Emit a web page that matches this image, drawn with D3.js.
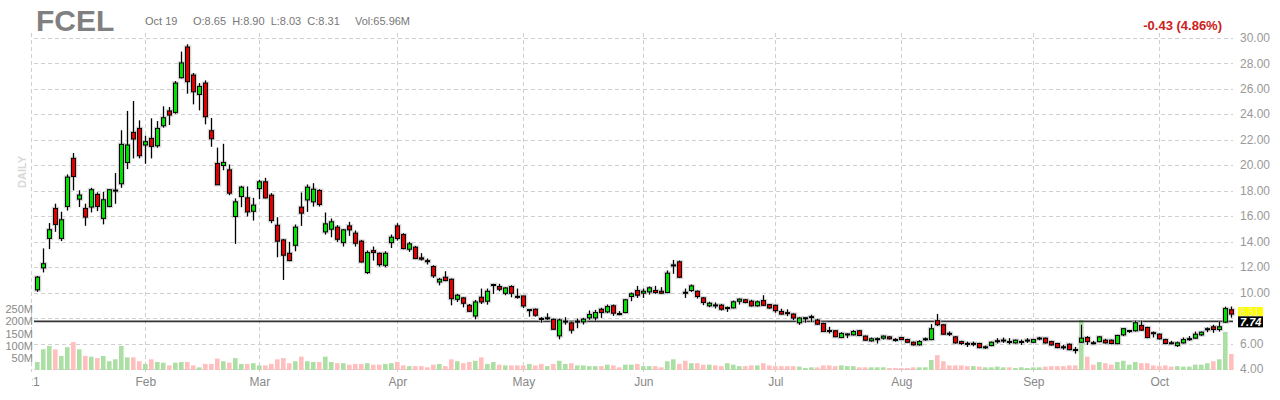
<!DOCTYPE html>
<html><head><meta charset="utf-8">
<script src="https://cdn.jsdelivr.net/npm/d3@7/dist/d3.min.js"></script>
<style>body{margin:0;background:#fff;} svg{display:block;font-family:"Liberation Sans",Arial,sans-serif;}</style>
</head><body><svg id="c" width="1280" height="400"></svg>
<script>
const openPrices = [10.21,11.94,14.25,16.6,14.25,16.76,20.53,17.33,16.6,16.71,
17.7,15.82,16.76,18.0,18.54,20.21,22.57,22.88,21.58,22.1,
21.52,23.09,24.25,24.14,26.86,29.27,27.07,25.55,26.44,22.7,
20.13,19.97,19.63,15.97,17.54,17.43,16.38,18.16,18.69,17.64,
15.28,14.13,13.08,13.71,16.7,17.27,17.12,18.01,14.76,14.97,
15.13,13.92,15.23,14.66,14.03,11.57,13.29,13.08,12.14,13.92,
15.23,14.55,13.4,13.56,12.72,12.5,12.04,10.83,11.2,11.04,
9.47,9.58,9.0,8.16,9.63,9.32,10.6,10.47,9.94,10.47,
9.7,9.73,8.62,8.69,7.97,7.98,7.9,6.6,7.72,7.62,
7.72,7.7,8.01,8.01,8.69,8.48,8.96,8.35,8.43,9.69,
10.16,9.95,10.05,10.16,10.1,10.0,12.12,12.41,10.02,10.16,
10.1,9.58,8.96,9.03,9.01,8.78,8.8,9.32,9.43,9.32,
8.96,9.37,9.05,9.0,8.52,8.42,8.31,7.63,7.99,8.08,
7.84,7.58,7.02,7.0,6.47,6.71,6.68,7.0,6.58,6.21,
6.36,6.42,6.52,6.32,6.47,6.31,6.1,5.9,6.34,6.31,
7.79,7.47,6.8,6.52,6.15,6.01,5.99,6.0,5.72,5.84,
6.2,6.25,6.16,6.05,6.14,6.25,6.1,6.41,6.42,6.15,
6.0,5.74,5.94,5.53,6.1,6.47,6.06,6.15,6.26,6.26,
5.99,6.68,6.98,7.0,7.42,7.26,6.85,6.73,6.31,6.06,
5.84,6.05,6.36,6.42,6.68,7.14,7.31,7.1,7.68,8.65];
const highPrices = [11.3,13.46,15.45,16.97,16.34,19.27,20.95,18.02,16.97,18.22,
17.86,17.91,18.1,19.38,22.73,24.25,25.03,23.51,22.31,23.67,
23.46,24.61,24.56,26.6,28.91,29.48,27.23,26.44,26.65,23.7,
21.37,21.67,20.05,17.38,18.37,18.32,17.43,18.85,19.0,17.8,
15.91,14.2,13.98,15.34,17.85,18.48,18.58,18.11,16.28,15.81,
15.29,14.97,15.55,14.87,14.13,13.3,13.61,13.14,13.24,14.55,
15.44,14.66,13.98,13.66,13.09,12.67,12.14,11.15,11.67,11.1,
9.89,9.63,9.1,9.42,10.31,10.31,10.68,10.68,10.42,10.57,
10.31,9.73,8.69,8.74,8.06,8.37,7.95,7.95,8.06,7.7,
7.96,8.01,8.59,8.64,8.8,9.06,9.06,8.54,9.48,10.0,
10.52,10.31,10.47,10.52,10.42,11.73,12.56,12.51,10.31,10.63,
10.16,9.64,9.27,9.22,9.11,8.9,9.37,9.53,9.48,9.43,
9.37,9.79,9.1,9.05,8.73,8.68,8.36,8.05,8.05,8.26,
7.94,7.63,7.31,7.05,6.89,6.79,7.05,7.05,6.63,6.47,
6.47,6.63,6.58,6.42,6.52,6.37,6.15,6.26,6.47,7.52,
8.31,7.52,6.94,6.58,6.21,6.15,6.15,6.05,5.84,6.15,
6.42,6.47,6.42,6.31,6.31,6.42,6.37,6.52,6.47,6.21,
6.05,5.89,6.0,5.73,7.47,6.58,6.21,6.58,6.37,6.31,
6.68,7.21,7.05,7.79,7.79,7.31,6.94,6.79,6.37,6.21,
6.15,6.47,6.58,6.94,6.94,7.26,7.47,7.73,8.89,8.90];
const lowPrices = [10.06,11.58,13.41,14.77,14.04,16.44,18.02,16.71,15.24,16.29,
16.39,15.35,16.7,16.97,18.22,19.69,20.53,20.53,20.11,20.53,
21.37,22.94,23.15,24.04,26.81,25.61,24.77,24.3,23.2,21.44,
18.46,19.6,17.64,13.82,16.7,15.97,15.65,17.33,17.38,15.44,
12.77,10.99,12.46,13.24,15.23,16.33,16.75,16.75,14.55,14.34,
13.98,13.61,14.45,13.61,12.35,11.46,12.51,12.04,11.98,13.5,
14.08,13.4,13.19,12.62,12.51,12.2,11.15,10.57,10.89,9.0,
9.26,8.84,8.48,7.9,9.1,9.05,9.89,10.1,9.79,9.63,
9.52,8.79,8.11,8.11,7.64,7.85,7.06,6.33,7.48,6.78,
7.2,7.49,7.86,7.8,8.01,8.38,8.17,8.22,8.38,9.32,
9.58,9.58,9.84,9.9,9.9,9.95,11.47,11.15,9.58,10.05,
9.53,9.01,8.85,8.75,8.59,8.48,8.75,9.06,9.16,8.9,
8.89,8.94,8.73,8.42,8.26,8.15,7.84,7.47,7.63,7.68,
7.47,6.94,6.79,6.53,6.42,6.42,6.63,6.58,6.21,6.15,
6.0,6.31,6.31,6.15,6.26,6.05,5.84,5.84,6.21,6.26,
7.37,6.68,6.58,6.0,5.89,5.73,5.79,5.63,5.58,5.79,
6.0,6.05,5.94,6.0,5.89,6.05,6.05,6.26,6.0,5.84,
5.63,5.52,5.47,5.21,6.05,5.89,5.94,6.1,6.0,5.94,
5.94,6.58,6.84,6.94,7.0,6.42,6.47,6.31,5.94,5.94,
5.73,6.0,6.21,6.37,6.58,6.89,6.84,6.94,7.63,8.03];
const closePrices = [11.21,12.26,14.93,15.35,15.71,19.06,19.11,17.65,15.92,18.07,
16.76,17.28,18.07,18.04,21.63,21.58,22.05,20.74,21.84,21.47,
22.88,23.72,23.93,26.44,28.02,26.55,25.76,26.18,23.8,22.07,
18.46,20.21,17.8,17.12,18.27,16.33,16.86,18.69,17.43,15.65,
14.03,12.93,12.51,15.13,16.23,18.27,18.11,16.91,15.39,15.55,
14.18,14.92,14.92,13.87,12.4,13.14,13.14,12.19,13.08,14.34,
14.24,13.45,13.82,12.67,12.62,12.45,11.31,11.04,10.94,9.52,
9.79,9.16,8.53,9.26,9.26,10.1,10.63,10.26,10.36,9.94,
9.66,8.95,8.66,8.22,7.93,8.02,7.12,7.85,7.76,7.05,
7.76,7.91,8.28,8.43,8.43,8.9,8.38,8.31,9.43,9.9,
9.79,10.1,10.37,10.0,9.95,11.52,12.17,11.2,9.98,10.52,
9.69,9.22,9.16,8.99,8.69,8.82,9.27,9.48,9.22,8.96,
9.27,9.0,8.79,8.58,8.31,8.38,8.0,8.0,8.02,8.11,
7.52,6.94,6.98,6.53,6.79,6.75,6.94,6.63,6.26,6.37,
6.38,6.58,6.37,6.3,6.31,6.1,5.9,6.15,6.37,7.16,
7.47,6.73,6.78,6.05,6.0,5.99,6.01,5.68,5.74,6.1,
6.22,6.27,6.14,6.26,6.16,6.27,6.31,6.43,6.05,5.89,
5.68,5.72,5.52,5.51,6.42,6.15,6.04,6.52,6.05,6.0,
6.63,7.16,7.02,7.63,7.05,6.47,6.83,6.37,6.0,6.04,
6.05,6.31,6.38,6.73,6.89,7.16,7.1,7.31,8.74,8.31];
const volumes = [33,85,99,85,58,94,115,85,58,55,
49,58,36,44,99,52,52,36,25,44,
33,30,19,30,33,33,19,11,25,25,
47,36,30,49,25,25,28,19,19,25,
44,49,28,36,55,36,33,33,55,33,
28,28,22,25,25,28,22,22,25,28,
33,19,16,16,16,11,22,25,16,44,
36,28,33,38,52,25,33,22,19,19,
19,19,25,19,25,16,25,38,25,28,
19,19,16,16,16,22,19,11,22,22,
25,16,16,16,11,36,44,25,38,28,
28,22,22,19,16,28,22,16,16,19,
19,28,19,16,16,16,16,14,8,11,
11,19,19,16,19,16,16,11,11,11,
11,11,8,8,8,8,11,11,11,41,
61,36,19,19,19,16,16,14,11,11,
14,11,11,8,11,8,11,11,14,16,
16,16,19,19,206,55,22,33,28,22,
33,38,22,33,28,28,19,16,19,14,
16,14,14,22,22,28,36,44,157,65.96];
const monthLabels = ["'21","Feb","Mar","Apr","May","Jun","Jul","Aug","Sep","Oct"];
const monthStart = [-1,18,37,60,81,101,123,144,166,187];
const priceTicks = [4,6,8,10,12,14,16,18,20,22,24,26,28,30];
const priceLabelTicks = [4,6,10,12,14,16,18,20,22,24,26,28,30];
const volTicks = [50,100,150,200,250];
const refLine = 7.74;
const headerText = {sym:"FCEL", date:"Oct 19", ohlc:"O:8.65  H:8.90  L:8.03  C:8.31", vol:"Vol:65.96M", chg:"-0.43 (4.86%)"};

(function draw() {
const svg = d3.select("#c");
const n = closePrices.length;
const x = d3.scaleLinear().domain([0, n-1]).range([37.3, 1231.3]);
const y = d3.scaleLinear().domain([4, 30]).range([369, 37.7]);
const yv = d3.scaleLinear().domain([0, 250]).range([370, 309.3]);
const L = 34, R = 1233, T = 33, B = 372;
const FF = "Liberation Sans, Arial, sans-serif";

const g = svg.append("g");
g.selectAll("line.h").data(priceTicks).join("line").attr("class","h")
  .attr("x1", L).attr("x2", R)
  .attr("y1", d => Math.round(y(d))+0.5).attr("y2", d => Math.round(y(d))+0.5)
  .attr("stroke", "#d0d0d0").attr("stroke-dasharray", "4,3");
g.selectAll("line.v").data(monthStart).join("line").attr("class","v")
  .attr("x1", d => Math.round(x(d))+0.5).attr("x2", d => Math.round(x(d))+0.5)
  .attr("y1", T).attr("y2", B)
  .attr("stroke", "#d0d0d0").attr("stroke-dasharray", "4,3");

const pa = svg.append("g").attr("transform", "translate(1238,0)")
  .call(d3.axisRight(y).tickValues(priceLabelTicks).tickFormat(d3.format(".2f")).tickSize(0));
pa.select(".domain").remove();
pa.selectAll("text").attr("x", 2).attr("fill", "#999").attr("font-size", 12).attr("font-family", FF);

const va = svg.append("g").attr("transform", "translate(34,0)")
  .call(d3.axisLeft(yv).tickValues(volTicks).tickFormat(d => d + "M").tickSize(0));
va.select(".domain").remove();
va.selectAll("text").attr("x", -1).attr("fill", "#888").attr("font-size", 11).attr("font-family", FF);

svg.append("clipPath").attr("id", "mclip").append("rect").attr("x", 32).attr("y", 370).attr("width", 1210).attr("height", 30);
const ma = svg.append("g").attr("clip-path", "url(#mclip)").append("g").attr("transform", "translate(0,374)")
  .call(d3.axisBottom(x).tickValues(monthStart).tickFormat((d, i) => monthLabels[i]).tickSize(0));
ma.select(".domain").remove();
ma.selectAll("text").attr("fill", "#888").attr("font-size", 12).attr("font-family", FF);

const idx = d3.range(n);
const up = i => closePrices[i] >= openPrices[i];
svg.append("g").selectAll("rect").data(idx).join("rect")
  .attr("x", i => x(i) - 2.3).attr("width", 4.6)
  .attr("y", i => yv(volumes[i])).attr("height", i => yv(0) - yv(volumes[i]))
  .attr("fill", i => up(i) ? "#acdfa4" : "#ffbfbf");

svg.append("line").attr("x1", L).attr("x2", R)
  .attr("y1", y(refLine)).attr("y2", y(refLine))
  .attr("stroke", "#333").attr("stroke-width", 1.6);

const cg = svg.append("g");
cg.selectAll("line.hw").data(idx).join("line").attr("class","hw")
  .attr("x1", i => Math.round(x(i))+0.5).attr("x2", i => Math.round(x(i))+0.5)
  .attr("y1", i => y(highPrices[i])).attr("y2", i => y(lowPrices[i]))
  .attr("stroke", "#bbb").attr("stroke-width", 3).attr("opacity", 0.6);
cg.selectAll("rect.hb").data(idx).join("rect").attr("class","hb")
  .attr("x", i => Math.round(x(i)) - 2).attr("width", 5)
  .attr("y", i => y(Math.max(openPrices[i], closePrices[i])) - 0.5)
  .attr("height", i => Math.max(1, Math.abs(y(openPrices[i]) - y(closePrices[i]))) + 1)
  .attr("fill", "none").attr("stroke", "#bbb").attr("stroke-width", 2.5).attr("opacity", 0.6);
cg.selectAll("line.w").data(idx).join("line").attr("class","w")
  .attr("x1", i => Math.round(x(i))+0.5).attr("x2", i => Math.round(x(i))+0.5)
  .attr("y1", i => y(highPrices[i])).attr("y2", i => y(lowPrices[i]))
  .attr("stroke", "#000").attr("stroke-width", 1);
cg.selectAll("rect.b").data(idx).join("rect").attr("class","b")
  .attr("x", i => Math.round(x(i)) - 1.5).attr("width", 4)
  .attr("y", i => y(Math.max(openPrices[i], closePrices[i])))
  .attr("height", i => Math.max(1, Math.abs(y(openPrices[i]) - y(closePrices[i]))))
  .attr("fill", i => up(i) ? "#00e000" : "#e00000")
  .attr("stroke", "#000").attr("stroke-width", 1);

const lastY = y(closePrices[n-1]);
svg.append("rect").attr("x", 1238).attr("y", lastY - 7).attr("width", 25).attr("height", 9).attr("fill", "#ffff00");
svg.append("text").attr("x", 1240).attr("y", lastY + 1.5).text(d3.format(".2f")(closePrices[n-1]))
  .attr("font-size", 10).attr("fill", "#f0f0a8");
const refY = y(refLine);
svg.append("rect").attr("x", 1238).attr("y", refY - 5).attr("width", 25).attr("height", 11).attr("fill", "#000");
svg.append("text").attr("x", 1240).attr("y", refY + 4.5).text(d3.format(".2f")(refLine))
  .attr("font-size", 11).attr("font-weight", "bold").attr("font-style", "italic").attr("fill", "#fff");

svg.append("text").attr("x", 36).attr("y", 31).text(headerText.sym)
  .attr("font-size", 30).attr("font-weight", "bold").attr("fill", "#808080");
svg.append("text").attr("x", 145).attr("y", 25).text(headerText.date).attr("font-size", 11).attr("fill", "#777");
svg.append("text").attr("x", 193).attr("y", 25).text(headerText.ohlc).attr("font-size", 11).attr("fill", "#777").style("white-space","pre");
svg.append("text").attr("x", 355).attr("y", 25).text(headerText.vol).attr("font-size", 11).attr("fill", "#777");
svg.append("text").attr("x", 1222).attr("y", 30).attr("text-anchor", "end").text(headerText.chg)
  .attr("font-size", 13).attr("font-weight", "bold").attr("fill", "#cc2020");
svg.append("text").attr("transform", "translate(26,172) rotate(-90)").attr("text-anchor", "middle")
  .text("DAILY").attr("font-size", 11).attr("font-weight", "bold").attr("fill", "#d8d8d8");
})();
</script></body></html>
